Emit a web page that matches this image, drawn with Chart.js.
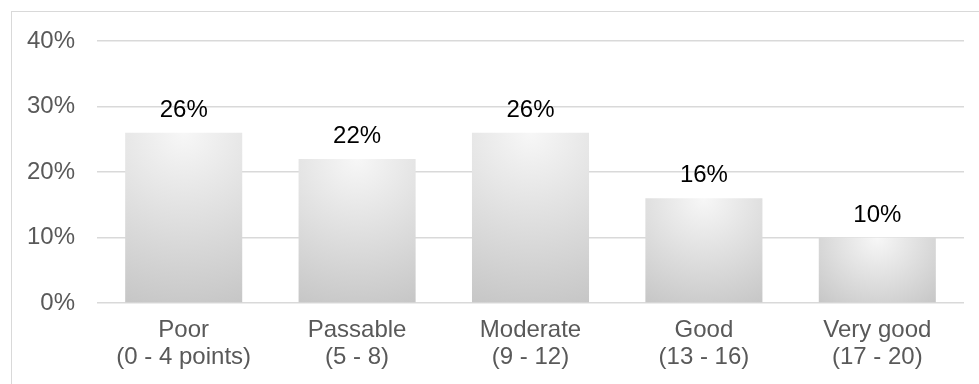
<!DOCTYPE html>
<html>
<head>
<meta charset="utf-8">
<script src="https://cdn.jsdelivr.net/npm/chart.js@4"></script>
<style>
  html, body { margin: 0; padding: 0; background: #fff; overflow: hidden; }
  #wrap { position: relative; width: 979px; height: 384px; overflow: hidden; }
  #frame { position: absolute; left: 11px; top: 11px; width: 2000px; height: 2000px;
           border: 1.5px solid #d9d9d9; box-sizing: border-box; pointer-events: none; }
  canvas { position: absolute; left: 0; top: 0; }
</style>
</head>
<body>
<div id="wrap">
  <canvas id="c" width="979" height="384"></canvas>
  <div id="frame"></div>
</div>
<script>
const categories = [
  ["Poor", "(0 - 4 points)"],
  ["Passable", "(5 - 8)"],
  ["Moderate", "(9 - 12)"],
  ["Good", "(13 - 16)"],
  ["Very good", "(17 - 20)"]
];
const shares = [26, 22, 26, 16, 10];
const yMin = 0;
const yMax = 40;
const yStep = 10;

const FONT = "Arial, 'Liberation Sans', sans-serif";

function barGradient(ctx) {
  const chart = ctx.chart;
  const xs = chart.scales.x, ys = chart.scales.y;
  if (!xs || !ys || ctx.dataIndex === undefined) return '#dcdcdc';
  const v = ctx.dataset.data[ctx.dataIndex];
  const cx = xs.getPixelForValue(ctx.dataIndex);
  const top = ys.getPixelForValue(v);
  const base = ys.getPixelForValue(0);
  const w = (xs.width / categories.length) * 0.675;
  const h = Math.max(1, base - top);
  const r = Math.sqrt((w / 2) * (w / 2) + h * h);
  if (![cx, top, r].every(Number.isFinite) || r <= 0) return '#dcdcdc';
  const g = chart.ctx.createRadialGradient(cx, top, 0, cx, top, r);
  g.addColorStop(0, '#f7f7f7');
  g.addColorStop(1, '#c6c6c6');
  return g;
}

const valueLabels = {
  id: 'valueLabels',
  afterDatasetsDraw(chart) {
    const c = chart.ctx;
    const meta = chart.getDatasetMeta(0);
    c.save();
    c.font = '24px ' + FONT;
    c.fillStyle = '#000000';
    c.textAlign = 'center';
    c.textBaseline = 'alphabetic';
    meta.data.forEach((el, i) => {
      c.fillText(chart.data.datasets[0].data[i] + '%', el.x, el.y - 16);
    });
    c.restore();
  }
};

const chart = new Chart(document.getElementById('c'), {
  type: 'bar',
  data: {
    labels: categories,
    datasets: [{
      data: shares,
      backgroundColor: barGradient,
      borderWidth: 0,
      barPercentage: 0.675,
      categoryPercentage: 1.0
    }]
  },
  options: {
    responsive: false,
    animation: false,
    devicePixelRatio: 1,
    layout: { padding: { top: 41, right: 15, left: 0, bottom: 0 } },
    plugins: { legend: { display: false }, tooltip: { enabled: false } },
    scales: {
      x: {
        grid: { display: false, drawTicks: false },
        border: { display: false },
        ticks: {
          color: '#595959',
          font: { family: FONT, size: 24, lineHeight: 1.12 },
          padding: 14,
          maxRotation: 0,
          autoSkip: false
        },
        afterFit(scale) { scale.height = 81; }
      },
      y: {
        min: yMin,
        max: yMax,
        grid: { color: '#d9d9d9', lineWidth: 1.5, drawTicks: false },
        border: { display: false },
        ticks: {
          stepSize: yStep,
          color: '#595959',
          font: { family: FONT, size: 24 },
          padding: 22,
          callback: v => v + '%'
        },
        afterFit(scale) { scale.width = 97; }
      }
    }
  },
  plugins: [valueLabels]
});
chart.update();
</script>
</body>
</html>
